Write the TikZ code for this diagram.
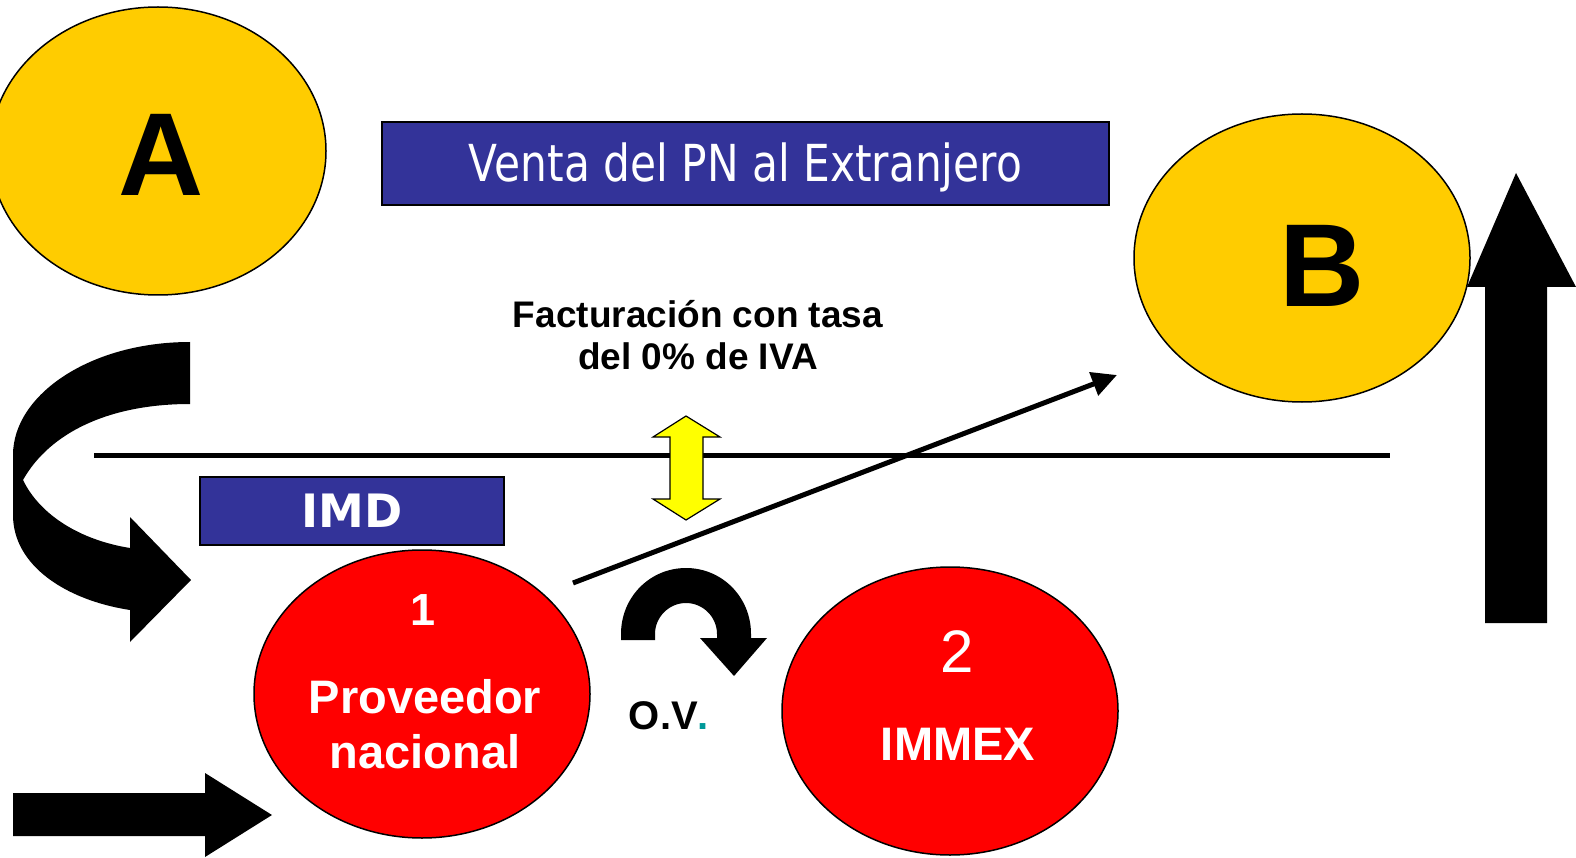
\documentclass[tikz,border=0pt]{standalone}
\usepackage{fontspec}
\setmainfont{Liberation Sans}
\newfontfamily\tahoma[FakeStretch=0.83]{DejaVu Sans}
\newfontfamily\verdana{DejaVu Sans}
\usetikzlibrary{shapes.geometric,arrows.meta}
\definecolor{oro}{HTML}{FFCC00}
\definecolor{azul}{HTML}{333399}
\definecolor{rojo}{HTML}{FF0000}
\definecolor{amarillo}{HTML}{FFFF00}
\definecolor{verdeazul}{HTML}{009999}
\begin{document}
\begin{tikzpicture}[x=1pt,y=-1pt,every text node part/.style={align=center},
elipse/.style={ellipse,draw=black,line width=1.5pt,minimum width=336pt,minimum height=288pt,inner sep=0pt},
caja/.style={rectangle,draw=black,line width=1.2pt,fill=azul,text=white,inner sep=0pt},
letra/.style={anchor=base,font=\bfseries\fontsize{118}{118}\selectfont},
blanco/.style={text=white,anchor=base,font=\bfseries\fontsize{47}{55}\selectfont},
negro/.style={text=black,anchor=base,font=\bfseries\fontsize{37}{42}\selectfont}]
\useasboundingbox (0,0) rectangle (1576,858);
\clip (0,0) rectangle (1576,858);
\fill (190,342) .. controls (90,342) and (13,395) .. (13,455) -- (13,515) .. controls (13,565) and (65,600) .. (130,610) -- (130,642) -- (191,580) -- (130,517) -- (130,548) .. controls (80,540) and (40,515) .. (23,480) .. controls (50,432) and (110,404) .. (190,404) -- cycle;
\fill (13,793) -- (205,793) -- (205,773) -- (272,815) -- (205,857) -- (205,836) -- (13,836) -- cycle;
\fill (1485,623) -- (1485,287) -- (1467,287) -- (1516,173) -- (1576,287) -- (1547,287) -- (1547,623) -- cycle;
\node[elipse,fill=oro] (A) at (158,151) {};
\node[letra] (tA) at (161,196) {A};
\node[elipse,fill=oro] (B) at (1302,258) {};
\node[letra] (tB) at (1322,307) {B};
\node[caja,minimum width=727pt,minimum height=83pt,text height=37pt,text depth=0pt,font=\tahoma\fontsize{51}{51}\selectfont] (venta) at (745.5,163.5) {Venta del PN al Extranjero};
\node[negro] (fact) at (698,369) {Facturación con tasa\\del 0\% de IVA};
\coordinate (izq) at (94,455);
\coordinate (der) at (1390,455);
\draw[line width=5pt] (izq) -- (der);
\draw[fill=amarillo,line width=1.2pt] (686,416) -- (720,437) -- (703,437) -- (703,499) -- (720,499) -- (686,520) -- (653,499) -- (670,499) -- (670,437) -- (653,437) -- cycle;
\node[caja,minimum width=304pt,minimum height=68pt,text height=33pt,text depth=0pt,font=\verdana\bfseries\fontsize{46}{46}\selectfont] (imd) at (352,511) {IMD};
\node[elipse,fill=rojo] (prov) at (422,694) {};
\node[blanco,font=\bfseries\fontsize{45}{45}\selectfont] (uno) at (423,625) {1};
\node[blanco] (tprov) at (425,768) {Proveedor\\nacional};
\node[elipse,fill=rojo] (immex) at (950,711) {};
\node[text=white,anchor=base,font=\fontsize{60}{60}\selectfont] (dos) at (957,672) {2};
\node[blanco] (timmex) at (958,760) {IMMEX};
\node[negro,font=\bfseries\fontsize{40}{40}\selectfont] (ov) at (669,729) {O.V{\color{verdeazul}.}};
\fill (621,640) -- (621,634) .. controls (621,597) and (650,568) .. (686,568) .. controls (722,568) and (751,597) .. (751,634) -- (751,638) -- (767,638) -- (734,676) -- (700,638) -- (717,638) -- (717,634) .. controls (717,617) and (703,603) .. (686,603) .. controls (669,603) and (655,617) .. (655,634) -- (655,640) -- cycle;
\coordinate (salida) at (573,583);
\coordinate (llegada) at (1117,375);
\draw[line width=5pt,-{Triangle[length=25pt,width=24pt]}] (salida) -- (llegada);
\end{tikzpicture}
\end{document}
